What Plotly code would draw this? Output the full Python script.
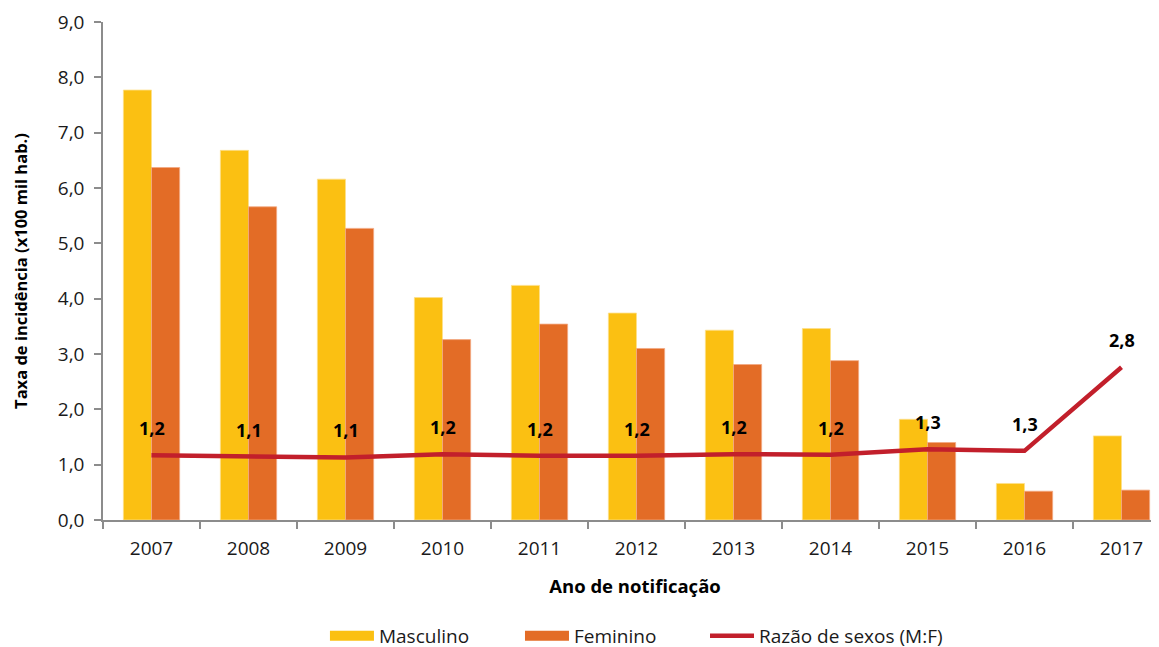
import plotly.graph_objects as go

years = ["2007", "2008", "2009", "2010", "2011", "2012", "2013", "2014", "2015", "2016", "2017"]
masculino = [7.77, 6.68, 6.16, 4.02, 4.24, 3.74, 3.43, 3.46, 1.82, 0.66, 1.52]
feminino = [6.37, 5.66, 5.27, 3.26, 3.54, 3.10, 2.81, 2.88, 1.40, 0.52, 0.54]
razao = [1.17, 1.14, 1.13, 1.19, 1.16, 1.16, 1.19, 1.18, 1.28, 1.25, 2.76]
razao_labels = ["1,2", "1,1", "1,1", "1,2", "1,2", "1,2", "1,2", "1,2", "1,3", "1,3", "2,8"]
y_ticks = [0, 1, 2, 3, 4, 5, 6, 7, 8, 9]

FONT = "Open Sans"
C_M = "#FBC012"
C_F = "#E36C26"
C_R = "#C21F2B"

fig = go.Figure()
fig.add_trace(go.Bar(x=years, y=masculino, name="Masculino", showlegend=False, legendgroup="m",
                     marker=dict(color=C_M, line=dict(color="#FDE08A", width=0.8))))
fig.add_trace(go.Bar(x=years, y=feminino, name="Feminino", showlegend=False, legendgroup="f",
                     marker=dict(color=C_F, line=dict(color="#F2A882", width=0.8))))
fig.add_trace(go.Scatter(x=years, y=razao, name="Razão de sexos (M:F)", mode="lines",
                         line=dict(color=C_R, width=4.5), legend="legend3"))
# legend-only entries giving wide rectangular swatches for the bar series
fig.add_trace(go.Scatter(x=[None], y=[None], name="Masculino", mode="lines", legendgroup="m",
                         line=dict(color=C_M, width=10), legend="legend"))
fig.add_trace(go.Scatter(x=[None], y=[None], name="Feminino", mode="lines", legendgroup="f",
                         line=dict(color=C_F, width=10), legend="legend2"))

for i, (y, t) in enumerate(zip(razao, razao_labels)):
    fig.add_annotation(x=i, y=y, xref="x", yref="y", text="<b>" + t + "</b>", showarrow=False,
                       yshift=27, font=dict(family=FONT, size=18, color="black"))

leg_common = dict(orientation="h", xanchor="left", yref="container", y=0.0294,
                  yanchor="middle",
                  font=dict(family=FONT, size=19, color="#1a1a1a"), bgcolor="rgba(0,0,0,0)",
                  itemwidth=44)

fig.update_layout(
    width=1159, height=647,
    margin=dict(l=95, r=0, t=14, b=135),
    paper_bgcolor="white", plot_bgcolor="white",
    separators=",.",
    barmode="group", bargap=0.42, bargroupgap=0,
    font=dict(family=FONT, size=15, color="#1a1a1a"),
    legend=dict(x=0.2086, **leg_common),
    legend2=dict(x=0.3919, **leg_common),
    legend3=dict(x=0.5658, **leg_common),
    xaxis=dict(type="category", range=[-0.5, 10.469], showline=True, linecolor="#8c8c8c",
               linewidth=1.5, ticks="outside", tickson="boundaries", ticklen=7,
               tickcolor="#8c8c8c", tickwidth=1.5, showgrid=False, automargin=False,
               ticklabelstandoff=10,
               tickfont=dict(family=FONT, size=19, color="#1a1a1a"),
               title=dict(text="<b>Ano de notificação</b>", standoff=21,
                          font=dict(family=FONT, size=18.5, color="black"))),
    yaxis=dict(range=[0, 9], tickvals=y_ticks, tickformat=".1f", showline=True,
               linecolor="#8c8c8c", linewidth=1.5, ticks="outside", ticklen=7,
               tickcolor="#8c8c8c", tickwidth=1.5, showgrid=False, zeroline=False,
               automargin=False, ticklabelstandoff=6,
               tickfont=dict(family=FONT, size=19, color="#1a1a1a"),
               title=dict(text="<b>Taxa de incidência (x100 mil hab.)</b>", standoff=26,
                          font=dict(family=FONT, size=16.5, color="black"))),
)

fig.write_html("out.html")
